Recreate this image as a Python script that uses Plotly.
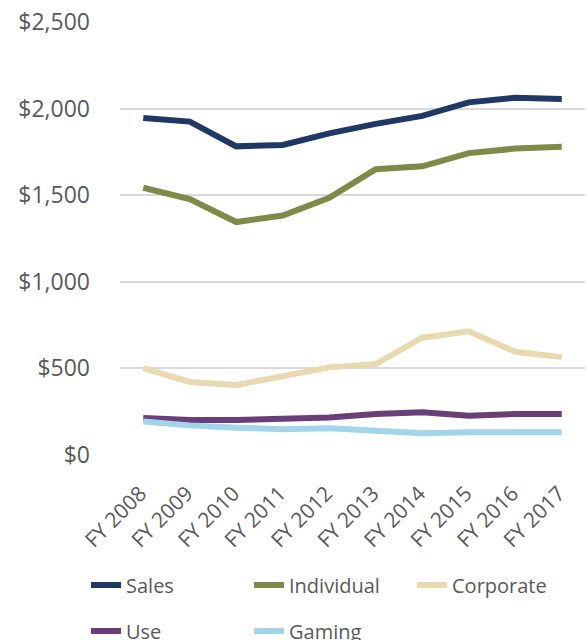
import plotly.graph_objects as go

years = ["FY 2008", "FY 2009", "FY 2010", "FY 2011", "FY 2012",
         "FY 2013", "FY 2014", "FY 2015", "FY 2016", "FY 2017"]
sales = [1946, 1925, 1782, 1790, 1857, 1912, 1958, 2036, 2063, 2055]
individual = [1543, 1478, 1345, 1383, 1485, 1650, 1667, 1743, 1769, 1780]
corporate = [501, 422, 404, 451, 506, 525, 677, 714, 596, 565]
use = [213, 202, 202, 212, 217, 236, 247, 226, 237, 236]
gaming = [194, 171, 158, 149, 154, 141, 126, 131, 131, 131]
y_ticks = [0, 500, 1000, 1500, 2000, 2500]
y_tick_text = ["$0", "$500", "$1,000", "$1,500", "$2,000", "$2,500"]

series = [
    ("Sales", sales, "#203864", "legend"),
    ("Individual", individual, "#7E8A47", "legend"),
    ("Corporate", corporate, "#E8D9B1", "legend"),
    ("Use", use, "#6A3F79", "legend2"),
    ("Gaming", gaming, "#A3D5EA", "legend2"),
]

fig = go.Figure()
for name, vals, color, lg in series:
    fig.add_trace(go.Scatter(
        x=years, y=vals, name=name, mode="lines",
        line=dict(color=color, width=6),
        legend=lg, hoverinfo="skip",
    ))

W, H = 586, 640
L, R, T, B = 120, 1, 22, 185
ph = H - T - B
pw = W - L - R

def py(ypx):
    return (H - B - ypx) / ph

def px(xpx):
    return (xpx - L) / pw

fig.update_layout(
    width=W, height=H,
    margin=dict(l=L, r=R, t=T, b=B, pad=0, autoexpand=False),
    paper_bgcolor="white", plot_bgcolor="white",
    font=dict(family="Open Sans", color="#595959"),
    showlegend=True,
    legend=dict(
        orientation="h", x=px(86), xanchor="left", y=py(585), yanchor="middle",
        font=dict(size=20, color="#595959"),
        entrywidth=118, entrywidthmode="pixels",
        bgcolor="rgba(0,0,0,0)", borderwidth=0,
    ),
    legend2=dict(
        orientation="h", x=px(86), xanchor="left", y=py(631), yanchor="middle",
        font=dict(size=20, color="#595959"),
        entrywidth=118, entrywidthmode="pixels",
        bgcolor="rgba(0,0,0,0)", borderwidth=0,
    ),
    xaxis=dict(
        type="category", tickangle=-45, showgrid=False, zeroline=False,
        showline=False, ticks="", tickfont=dict(size=21, color="#595959"),
        range=[-0.5, len(years) - 0.5], fixedrange=True,
        ticklabelstandoff=21, ticklabelshift=-3,
    ),
    yaxis=dict(
        range=[0, 2500], tickvals=y_ticks, ticktext=y_tick_text,
        showgrid=True, gridcolor="#D9D9D9", gridwidth=2,
        zeroline=False, showline=False, ticks="",
        tickfont=dict(size=23, color="#595959"),
        ticklabelstandoff=29, fixedrange=True,
    ),
)

fig.write_html(
    "out.html",
    config={"displayModeBar": False},
    post_script="document.body.style.margin='0';document.body.style.overflow='hidden';",
)
